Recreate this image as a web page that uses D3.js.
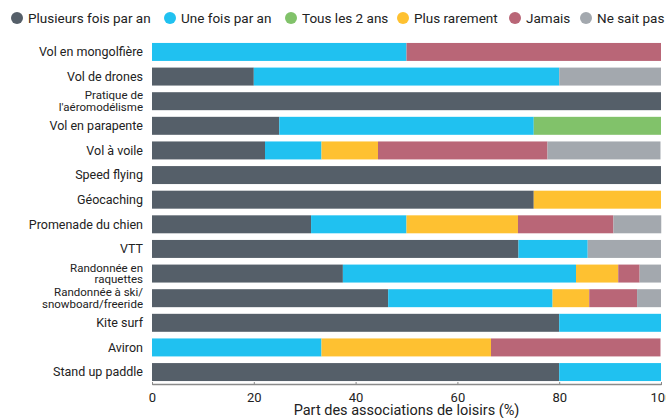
<!DOCTYPE html>
<html lang="fr">
<head>
    <meta charset="UTF-8">
    <title>Fréquence des activités - associations de loisirs</title>
    <script src="https://d3js.org/d3.v7.min.js"></script>
    <style>
        body { margin: 0; background: #fff; }
        svg { font-family: Roboto, "Liberation Sans", sans-serif; }
        .axis path, .axis line { stroke: #8a8a8a; }
        .axis text { fill: #222; font-size: 13px; font-family: Roboto, sans-serif; }
    </style>
</head>
<body>
<div id="chart"></div>
<script>
    // categories (top to bottom), multi-line labels split by "|"
    const categories = [
        "Vol en mongolfière", "Vol de drones", "Pratique de|l'aéromodélisme",
        "Vol en parapente", "Vol à voile", "Speed flying", "Géocaching",
        "Promenade du chien", "VTT", "Randonnée en|raquettes",
        "Randonnée à ski/|snowboard/freeride", "Kite surf", "Aviron", "Stand up paddle"
    ];
    const seriesNames = ["Plusieurs fois par an", "Une fois par an", "Tous les 2 ans", "Plus rarement", "Jamais", "Ne sait pas"];
    const colors = ["#555f69", "#20c1f0", "#81c26a", "#fec131", "#b96677", "#a3a8ae"];

    // share (%) per series, same order as categories
    const plusieurs = [0, 20, 100, 25, 22.2, 100, 75, 31.25, 72, 37.5, 46.4, 80, 0, 80];
    const uneFois   = [50, 60, 0, 50, 11.1, 0, 0, 18.75, 13.6, 45.8, 32.3, 20, 33.3, 20];
    const tous2ans  = [0, 0, 0, 25, 0, 0, 0, 0, 0, 0, 0, 0, 0, 0];
    const rarement  = [0, 0, 0, 0, 11.1, 0, 25, 21.9, 0, 8.3, 7.2, 0, 33.3, 0];
    const jamais    = [50, 0, 0, 0, 33.3, 0, 0, 18.75, 0, 4.2, 9.4, 0, 33.3, 0];
    const neSaitPas = [0, 20, 0, 0, 22.2, 0, 0, 9.4, 14.4, 4.2, 4.7, 0, 0, 0];
    const xTicks = [0, 20, 40, 60, 80, 100];

    const seriesValues = [plusieurs, uneFois, tous2ans, rarement, jamais, neSaitPas];
    const keys = seriesNames;
    const table = categories.map((c, i) => {
        const row = { cat: c };
        keys.forEach((k, j) => row[k] = seriesValues[j][i]);
        return row;
    });

    const width = 666, height = 418;
    const margin = { top: 40, right: 5, bottom: 35, left: 152 };

    const svg = d3.select("#chart").append("svg")
        .attr("width", width)
        .attr("height", height);

    const x = d3.scaleLinear().domain([0, 100]).range([margin.left, 661]);
    const y = d3.scaleBand().domain(categories).range([margin.top, 384]).paddingInner(0.27).paddingOuter(0.12);
    const color = d3.scaleOrdinal().domain(keys).range(colors);

    const stacked = d3.stack().keys(keys)(table);

    svg.append("g")
        .selectAll("g")
        .data(stacked)
        .join("g")
        .attr("fill", d => color(d.key))
        .selectAll("rect")
        .data(d => d)
        .join("rect")
        .attr("x", d => x(d[0]))
        .attr("y", d => y(d.data.cat))
        .attr("width", d => Math.max(0, x(d[1]) - x(d[0])))
        .attr("height", y.bandwidth());

    // y labels
    const labels = svg.append("g");
    categories.forEach(c => {
        const lines = c.split("|");
        const cy = y(c) + y.bandwidth() / 2;
        const lh = 11.5;
        lines.forEach((l, i) => {
            labels.append("text")
                .attr("x", 143)
                .attr("y", cy + (i - (lines.length - 1) / 2) * lh)
                .attr("dy", "0.35em")
                .attr("text-anchor", "end")
                .attr("font-size", lines.length > 1 ? 11.5 : 12.5)
                .attr("fill", "#222")
                .text(l);
        });
    });

    // x axis
    const xAxis = svg.append("g")
        .attr("class", "axis")
        .attr("transform", "translate(0,384)")
        .call(d3.axisBottom(x).tickValues(xTicks).tickSize(3).tickSizeOuter(0));
    xAxis.select(".domain").attr("stroke-width", 1.5);
    xAxis.selectAll(".tick line").attr("transform", "translate(0,-2)");
    xAxis.selectAll("text").attr("dy", "0.9em");

    svg.append("text")
        .attr("x", (x(0) + x(100)) / 2)
        .attr("y", 410)
        .attr("dy", "0.35em")
        .attr("text-anchor", "middle")
        .attr("font-size", 14.5)
        .attr("fill", "#222")
        .text("Part des associations de loisirs (%)");

    // legend
    const legendX = [17, 170, 291, 403, 515, 586];
    const legend = svg.append("g");
    keys.forEach((k, i) => {
        const g = legend.append("g").attr("transform", `translate(${legendX[i]},18)`);
        g.append("circle").attr("r", 6).attr("fill", color(k));
        g.append("text")
            .attr("x", 11)
            .attr("dy", "0.35em")
            .attr("font-size", 13.5)
            .attr("fill", "#222")
            .text(k);
    });
</script>
</body>
</html>
